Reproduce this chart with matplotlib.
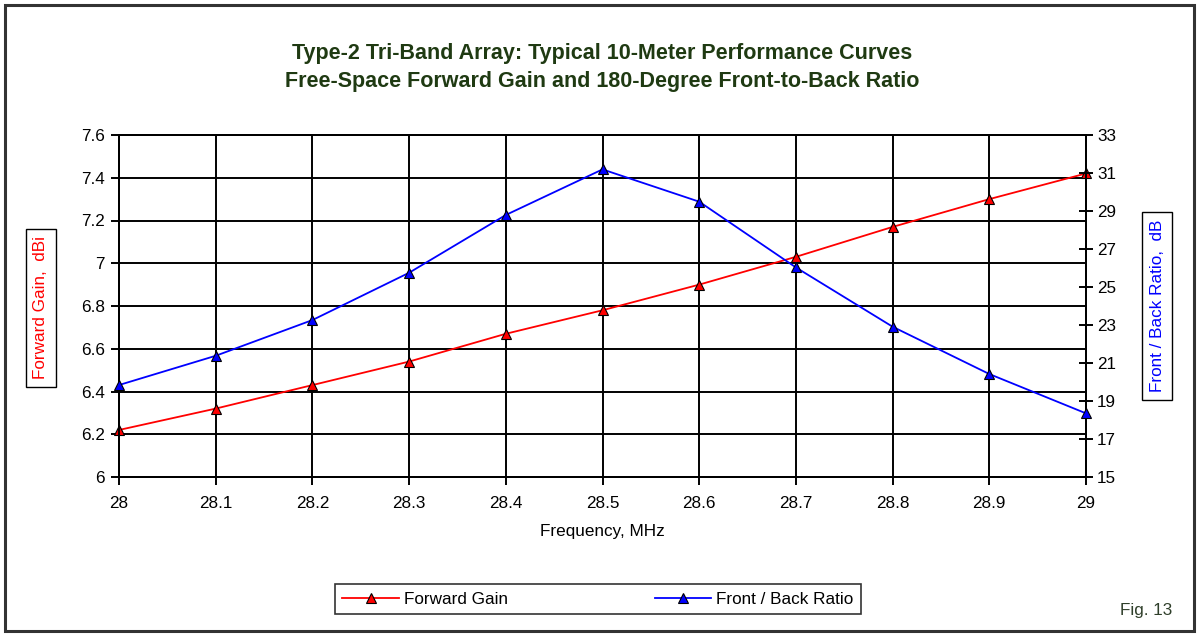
import matplotlib
matplotlib.use("Agg")
import matplotlib.pyplot as plt
from matplotlib.patches import Rectangle
from matplotlib.lines import Line2D

plt.rcParams["font.family"] = ["Liberation Sans", "DejaVu Sans"]

# data
freq_mhz = [28.0, 28.1, 28.2, 28.3, 28.4, 28.5, 28.6, 28.7, 28.8, 28.9, 29.0]
forward_gain = [6.22, 6.32, 6.43, 6.54, 6.67, 6.78, 6.90, 7.03, 7.17, 7.30, 7.42]
front_back = [19.84, 21.38, 23.26, 25.75, 28.79, 31.19, 29.49, 26.03, 22.91, 20.42, 18.35]

gain_ticks = [6.0, 6.2, 6.4, 6.6, 6.8, 7.0, 7.2, 7.4, 7.6]
gain_labels = ["6", "6.2", "6.4", "6.6", "6.8", "7", "7.2", "7.4", "7.6"]
fb_ticks = [15, 17, 19, 21, 23, 25, 27, 29, 31, 33]
freq_ticks = freq_mhz
freq_labels = ["28", "28.1", "28.2", "28.3", "28.4", "28.5", "28.6", "28.7", "28.8", "28.9", "29"]

W, H = 1198, 635
FS = 12.3
fig = plt.figure(figsize=(W / 100, H / 100), dpi=100)
fig.patch.set_facecolor("white")

x0, x1, y0, y1 = 119, 1086, 135, 477
ax = fig.add_axes([x0 / W, 1 - y1 / H, (x1 - x0) / W, (y1 - y0) / H])
ax2 = ax.twinx()

ax.plot(freq_mhz, forward_gain, color="#ff0000", lw=1.3, marker="^", ms=7,
        mfc="#ff0000", mec="black", mew=0.8, zorder=5, clip_on=False)
ax2.plot(freq_mhz, front_back, color="#0000ff", lw=1.3, marker="^", ms=7,
         mfc="#0000ff", mec="black", mew=0.8, zorder=5, clip_on=False)

ax.set_xlim(28.0, 29.0)
ax.set_ylim(6.0, 7.6)
ax2.set_ylim(15, 33)

ax.set_xticks(freq_ticks)
ax.set_xticklabels(freq_labels)
ax.set_yticks(gain_ticks)
ax.set_yticklabels(gain_labels)
ax2.set_yticks(fb_ticks)

ax.grid(True, color="black", lw=1.4)
ax.set_axisbelow(True)
for a in (ax, ax2):
    for s in a.spines.values():
        s.set_color("black")
        s.set_linewidth(1.4)
ax.tick_params(axis="x", direction="out", length=6, width=1.4, labelsize=FS, pad=8)
ax.tick_params(axis="y", direction="out", length=6, width=1.4, labelsize=FS, pad=4)
ax2.tick_params(axis="y", direction="inout", length=10, width=1.4, labelsize=FS, pad=3)

ax.set_xlabel("Frequency, MHz", fontsize=FS, labelpad=9)

# axis titles in boxes
fig.text(41 / W, 1 - 308 / H, "Forward Gain,  dBi", rotation=90, color="#ff0000",
         fontsize=FS, ha="center", va="center",
         bbox=dict(boxstyle="square,pad=0.45", fc="white", ec="black", lw=1.0))
fig.text(1157 / W, 1 - 306 / H, "Front / Back Ratio,  dB", rotation=90, color="#0000ff",
         fontsize=FS, ha="center", va="center",
         bbox=dict(boxstyle="square,pad=0.45", fc="white", ec="black", lw=1.0))

# title
title_color = "#1f3a12"
fig.text(602 / W, 1 - 53 / H,
         "Type-2 Tri-Band Array: Typical 10-Meter Performance Curves",
         ha="center", va="center", fontsize=15.5, fontweight="bold", color=title_color)
fig.text(602 / W, 1 - 81 / H,
         "Free-Space Forward Gain and 180-Degree Front-to-Back Ratio",
         ha="center", va="center", fontsize=15.5, fontweight="bold", color=title_color)

# legend
handles = [
    Line2D([0], [0], color="#ff0000", lw=1.3, marker="^", ms=7, mfc="#ff0000", mec="black", mew=0.8),
    Line2D([0], [0], color="#0000ff", lw=1.3, marker="^", ms=7, mfc="#0000ff", mec="black", mew=0.8),
]
leg = fig.legend(handles, ["Forward Gain", "Front / Back Ratio"], ncol=2,
                 loc="center", bbox_to_anchor=(598 / W, 1 - 599 / H),
                 fontsize=FS, frameon=True, fancybox=False, edgecolor="black",
                 handlelength=3.3, handletextpad=0.3, columnspacing=8.6,
                 borderpad=0.45, borderaxespad=0)
leg.get_frame().set_linewidth(1.2)

fig.text(1172 / W, 1 - 610 / H, "Fig. 13", ha="right", va="center",
         fontsize=FS, color="#2f3f2a")

# outer frame
fig.patches.append(Rectangle((5 / W, 4 / H), 1189 / W, 626 / H, transform=fig.transFigure,
                             fill=False, ec="#333333", lw=2.2))

fig.savefig("out.png", dpi=100)
